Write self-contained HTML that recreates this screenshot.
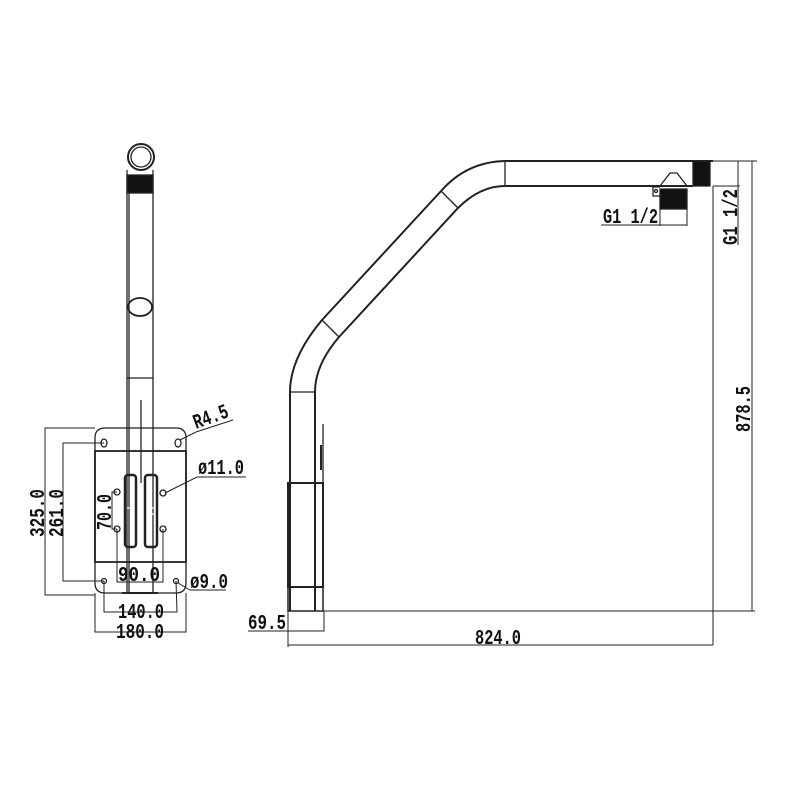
<!DOCTYPE html>
<html><head><meta charset="utf-8"><style>html,body{margin:0;padding:0;background:#fff}svg{display:block}text{font-family:"Liberation Mono","DejaVu Sans Mono",monospace;font-weight:bold;font-size:21px;fill:#111}</style></head>
<body>
<svg width="800" height="800" viewBox="0 0 800 800" xmlns="http://www.w3.org/2000/svg">
<g fill="none" stroke="#222" stroke-width="1.3">
<!-- LEFT VIEW -->
<circle cx="141" cy="157" r="13" stroke-width="2"/>
<circle cx="141" cy="157" r="10"/>
<rect x="127" y="175" width="26" height="18" fill="#111"/>
<line x1="127" y1="170" x2="127" y2="593"/><line x1="129" y1="193" x2="129" y2="593"/>
<line x1="153" y1="170" x2="153" y2="593"/>
<ellipse cx="140" cy="307" rx="12" ry="9" stroke-width="1.8"/>
<line x1="127" y1="378" x2="153" y2="378"/>
<line x1="141" y1="400" x2="141" y2="483"/>
<path d="M105 428 H176 Q186 428 186 438 V583 Q186 593 176 593 H105 Q95 593 95 583 V438 Q95 428 105 428 Z"/>
<rect x="95" y="451" width="91" height="111" stroke-width="1.8"/>
<rect x="125" y="475" width="11" height="72" rx="3" stroke-width="2.5"/>
<rect x="145" y="475" width="12" height="72" rx="3" stroke-width="2.5"/>
<line x1="127" y1="508" x2="134" y2="508" stroke="#fff"/>
<line x1="147" y1="508" x2="155" y2="508" stroke="#fff"/>
<line x1="147" y1="514" x2="155" y2="514" stroke="#fff"/>
<circle cx="117" cy="492" r="3"/><circle cx="117" cy="529" r="3"/>
<circle cx="163" cy="493" r="3"/><circle cx="163" cy="529" r="3"/>
<ellipse cx="104" cy="443" rx="3" ry="4"/><ellipse cx="178" cy="443" rx="3" ry="4"/>
<circle cx="104" cy="581" r="2.5"/><circle cx="176" cy="581" r="2.5"/>
<line x1="122" y1="593" x2="158" y2="593" stroke-width="2"/>
<!-- left dims -->
<polyline points="95,428 45,428 45,595 95,595" stroke-width="1"/>
<polyline points="104,443 63,443 63,581 104,581" stroke-width="1"/>
<polyline points="117,492 112,492 112,529 117,529" stroke-width="1"/>
<polyline points="117,529 117,582 163,582 163,529" stroke-width="1"/>
<polyline points="104,581 104,612 177,612 176,581" stroke-width="1"/>
<polyline points="95,593 95,632 186,632 186,593" stroke-width="1"/>
<polyline points="180,440 196,432 233,420" stroke-width="1"/>
<polyline points="165,493 197,477 246,477" stroke-width="1"/>
<polyline points="178,583 190,590 226,590" stroke-width="1"/>
<!-- RIGHT VIEW arm -->
<path d="M505 161 Q467 162 442 190 L322 320 Q290 358 290 392 V611" stroke-width="2"/>
<path d="M505 186 Q480 186 458 208 L339 337 Q315 365 315 392 V611" stroke-width="2"/>
<line x1="505" y1="161" x2="713" y2="161" stroke-width="2"/>
<line x1="505" y1="186" x2="693" y2="186" stroke-width="2"/>
<line x1="505" y1="161" x2="505" y2="186"/>
<line x1="441" y1="191" x2="458" y2="208"/>
<line x1="322" y1="320" x2="339" y2="337"/>
<line x1="290" y1="392" x2="315" y2="392"/>
<rect x="693" y="161" width="17" height="25" fill="#111"/>
<rect x="288" y="483" width="35" height="104" stroke-width="2"/>
<rect x="288" y="587" width="35" height="24" stroke-width="1.5"/>
<line x1="289" y1="485" x2="289" y2="585" stroke-width="3"/>
<line x1="323" y1="424" x2="323" y2="498"/>
<line x1="321" y1="445" x2="321" y2="470" stroke-width="2"/>
<rect x="660" y="189" width="27" height="20" fill="#111"/>
<polyline points="660,186 670,173 677,173 687,186" />
<path d="M660 187 H653 V196 H660"/><circle cx="656" cy="191" r="1.5"/>
<!-- right dims -->
<line x1="323" y1="611" x2="755" y2="611" stroke-width="1"/>
<line x1="713" y1="161" x2="757" y2="161" stroke-width="1"/>
<line x1="752" y1="161" x2="752" y2="611" stroke-width="1"/>
<line x1="713" y1="186" x2="713" y2="645" stroke-width="1"/>
<line x1="288" y1="611" x2="288" y2="647" stroke-width="1"/>
<line x1="288" y1="645" x2="713" y2="645" stroke-width="1"/>
<polyline points="248,631 324,631 324,611" stroke-width="1"/>
<polyline points="713,186 740,186" stroke-width="1"/>
<line x1="738" y1="161" x2="738" y2="245" stroke-width="1"/>
<polyline points="601,225 687,225" stroke-width="1"/>
<line x1="660" y1="209" x2="660" y2="226" stroke-width="1"/>
<line x1="687" y1="209" x2="687" y2="226" stroke-width="1"/>
</g>
<!-- text -->
<text x="196" y="429" transform="rotate(-20 196 429)" textLength="36" lengthAdjust="spacingAndGlyphs">R4.5</text>
<text x="198" y="474" textLength="46" lengthAdjust="spacingAndGlyphs">ø11.0</text>
<text x="190" y="588" textLength="38" lengthAdjust="spacingAndGlyphs">ø9.0</text>
<text x="118" y="581" textLength="42" lengthAdjust="spacingAndGlyphs">90.0</text>
<text x="118" y="618" textLength="46" lengthAdjust="spacingAndGlyphs">140.0</text>
<text x="116" y="638" textLength="48" lengthAdjust="spacingAndGlyphs">180.0</text>
<text x="44" y="537" transform="rotate(-90 44 537)" textLength="48" lengthAdjust="spacingAndGlyphs">325.0</text>
<text x="63" y="537" transform="rotate(-90 63 537)" textLength="48" lengthAdjust="spacingAndGlyphs">261.0</text>
<text x="111" y="530" transform="rotate(-90 111 530)" textLength="36" lengthAdjust="spacingAndGlyphs">70.0</text>
<text x="603" y="223" textLength="55" lengthAdjust="spacingAndGlyphs">G1 1/2</text>
<text x="737" y="245" transform="rotate(-90 737 245)" textLength="56" lengthAdjust="spacingAndGlyphs">G1 1/2</text>
<text x="750" y="432" transform="rotate(-90 750 432)" textLength="46" lengthAdjust="spacingAndGlyphs">878.5</text>
<text x="248" y="629" textLength="38" lengthAdjust="spacingAndGlyphs">69.5</text>
<text x="475" y="644" textLength="46" lengthAdjust="spacingAndGlyphs">824.0</text>
</svg>
</body></html>
